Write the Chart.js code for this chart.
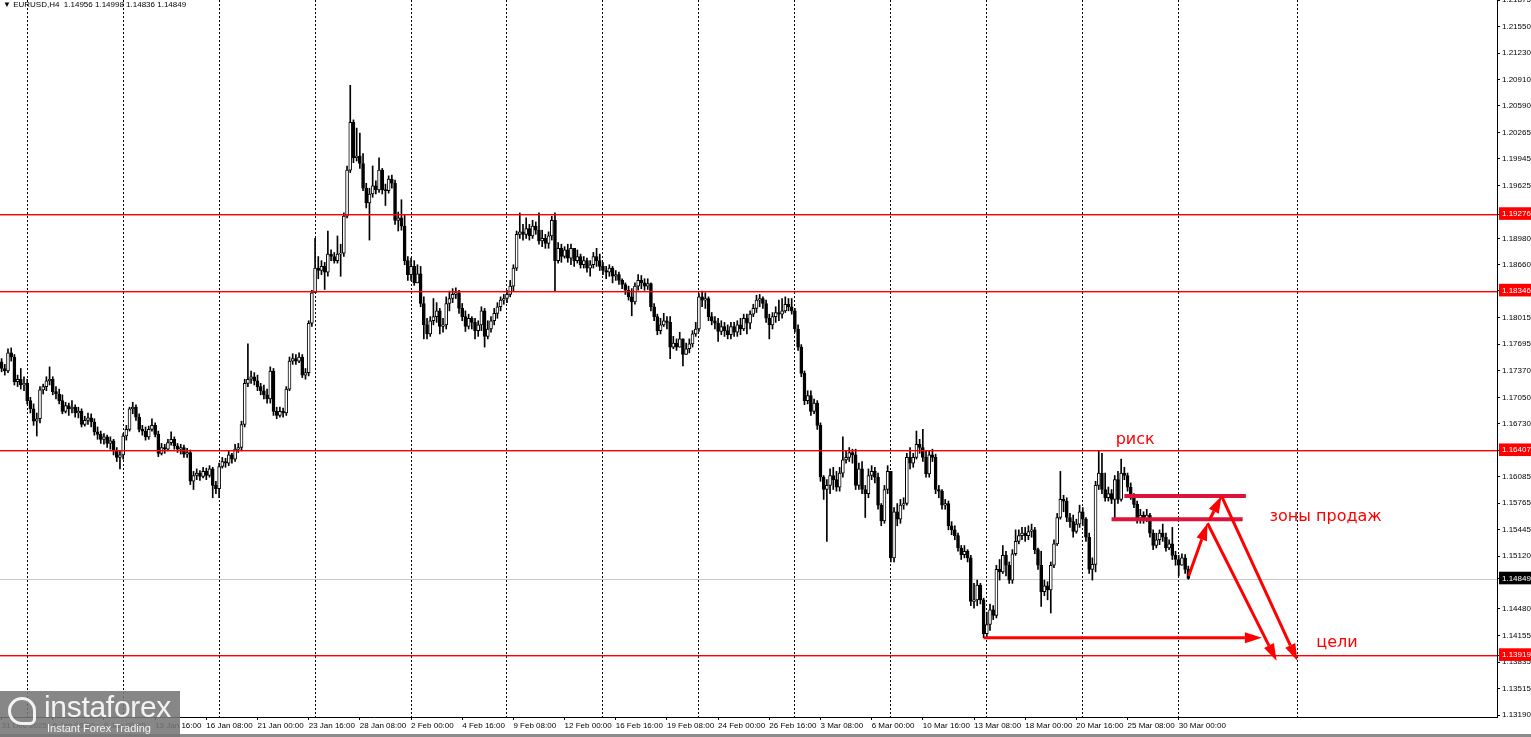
<!DOCTYPE html>
<html>
<head>
<meta charset="utf-8">
<title>EURUSD H4</title>
<script src="https://cdn.jsdelivr.net/npm/chart.js@4.4.1/dist/chart.umd.min.js"></script>
<style>
  html, body { margin: 0; padding: 0; background: #fff; overflow: hidden; }
  #wrap { position: relative; width: 1531px; height: 737px; }
  #header { position: absolute; left: 3px; top: 0; font: 8px 'Liberation Sans', Arial, sans-serif; color: #000; white-space: pre; }
  #logo { position: absolute; left: 0; top: 691px; width: 180px; height: 46px; background: rgba(118,118,118,0.88); color: rgba(255,255,255,0.9); font-family: 'Liberation Sans', Arial, sans-serif; }
  #logo .big { position: absolute; left: 44px; top: -1px; font-size: 30px; letter-spacing: -0.3px; }
  #logo .small { position: absolute; left: 47px; top: 31px; font-size: 11px; }
  #logo .icon { position: absolute; left: 8px; top: 6px; width: 28px; height: 28px; border: 3px solid rgba(255,255,255,0.9); border-radius: 50% 50% 6px 50%; box-sizing: border-box; }
  #bottom { position: absolute; left: 0; top: 734px; width: 1531px; height: 3px; background: #8c8c8c; }
</style>
</head>
<body>
<div id="wrap">
  <canvas id="chart" width="1531" height="737"></canvas>
  <div id="header">▼ EURUSD,H4  1.14956 1.14998 1.14836 1.14849</div>
  <div id="bottom"></div>
  <div id="logo"><div class="icon"></div><span class="big">instaforex</span><span class="small">Instant Forex Trading</span></div>
</div>
<script>
// prices in points above 1.0000 (1740 = 1.1740), one H4 bar each, 31 Dec 16:00 .. 30 Mar 12:00
const firstOpen = 1748;
const closes = [
    1740, 1737, 1759, 1754, 1724, 1727, 1720, 1722, 1701, 1691,
    1676, 1679, 1714, 1718, 1725, 1727, 1712, 1709, 1701, 1688,
    1695, 1691, 1693, 1686, 1688, 1672, 1677, 1680, 1675, 1663,
    1660, 1654, 1657, 1649, 1652, 1640, 1632, 1635, 1658, 1666,
    1691, 1693, 1681, 1666, 1664, 1657, 1666, 1671, 1660, 1637,
    1644, 1642, 1650, 1654, 1646, 1642, 1644, 1636, 1638, 1603,
    1610, 1613, 1609, 1615, 1610, 1618, 1598, 1594, 1621, 1627,
    1625, 1635, 1630, 1642, 1644, 1672, 1722, 1727, 1730, 1725,
    1718, 1713, 1708, 1703, 1737, 1688, 1683, 1688, 1686, 1715,
    1749, 1752, 1749, 1754, 1732, 1735, 1795, 1832, 1862, 1859,
    1864, 1857, 1879, 1876, 1871, 1879, 1880, 1925, 1981, 2039,
    1996, 1998, 1989, 1959, 1941, 1952, 1962, 1957, 1981, 1957,
    1956, 1970, 1965, 1920, 1923, 1913, 1871, 1854, 1864, 1844,
    1855, 1819, 1793, 1782, 1798, 1803, 1810, 1791, 1793, 1819,
    1825, 1830, 1832, 1813, 1803, 1791, 1801, 1796, 1786, 1793,
    1810, 1779, 1788, 1798, 1807, 1815, 1823, 1825, 1830, 1840,
    1862, 1903, 1906, 1903, 1910, 1901, 1913, 1908, 1895, 1898,
    1892, 1901, 1920, 1871, 1886, 1876, 1884, 1874, 1886, 1871,
    1876, 1866, 1871, 1862, 1866, 1876, 1871, 1864, 1859, 1857,
    1862, 1852, 1854, 1847, 1842, 1835, 1827, 1821, 1840, 1847,
    1844, 1840, 1843, 1815, 1803, 1786, 1793, 1798, 1796, 1766,
    1771, 1766, 1776, 1757, 1764, 1770, 1782, 1788, 1827, 1823,
    1825, 1803, 1798, 1795, 1785, 1791, 1786, 1781, 1791, 1784,
    1793, 1788, 1801, 1795, 1806, 1813, 1823, 1825, 1819, 1801,
    1793, 1803, 1808, 1806, 1810, 1818, 1815, 1810, 1788, 1766,
    1734, 1701, 1707, 1688, 1698, 1671, 1608, 1593, 1598, 1610,
    1605, 1596, 1613, 1629, 1632, 1638, 1635, 1598, 1618, 1593,
    1588, 1610, 1615, 1608, 1574, 1555, 1593, 1615, 1510, 1566,
    1557, 1574, 1576, 1632, 1625, 1632, 1648, 1644, 1632, 1612,
    1635, 1632, 1593, 1591, 1574, 1576, 1549, 1544, 1537, 1522,
    1514, 1518, 1510, 1457, 1459, 1477, 1459, 1418, 1429, 1447,
    1440, 1496, 1493, 1513, 1501, 1483, 1515, 1530, 1537, 1540,
    1537, 1542, 1544, 1520, 1501, 1469, 1476, 1471, 1501, 1527,
    1559, 1581, 1579, 1559, 1554, 1542, 1551, 1566, 1557, 1535,
    1496, 1502, 1598, 1613, 1593, 1583, 1588, 1581, 1605, 1581,
    1613, 1610, 1596, 1586, 1575, 1557, 1562, 1557, 1562, 1540,
    1525, 1532, 1540, 1535, 1522, 1527, 1513, 1508, 1501, 1510,
    1496, 1485
];
const highs = [
    1752, 1745, 1764, 1765, 1757, 1732, 1740, 1730, 1727, 1705,
    1697, 1686, 1718, 1721, 1730, 1742, 1730, 1718, 1715, 1708,
    1699, 1698, 1701, 1696, 1693, 1691, 1682, 1686, 1685, 1679,
    1669, 1664, 1661, 1659, 1657, 1654, 1644, 1640, 1661, 1671,
    1693, 1699, 1696, 1685, 1671, 1669, 1670, 1679, 1674, 1664,
    1649, 1648, 1654, 1663, 1657, 1649, 1648, 1647, 1643, 1641,
    1615, 1618, 1616, 1620, 1619, 1622, 1620, 1603, 1625, 1632,
    1631, 1640, 1637, 1648, 1649, 1676, 1727, 1770, 1737, 1735,
    1732, 1722, 1720, 1715, 1742, 1740, 1693, 1693, 1692, 1718,
    1754, 1758, 1757, 1759, 1757, 1740, 1798, 1835, 1898, 1876,
    1871, 1869, 1907, 1884, 1881, 1901, 1891, 1929, 1986, 2084,
    2042, 2032, 2026, 2001, 1965, 1959, 1986, 1968, 1996, 1983,
    1964, 1974, 1975, 1969, 1930, 1945, 1926, 1876, 1874, 1871,
    1866, 1864, 1827, 1801, 1803, 1825, 1820, 1813, 1801, 1827,
    1834, 1837, 1838, 1835, 1819, 1810, 1806, 1803, 1801, 1798,
    1815, 1813, 1798, 1803, 1813, 1820, 1827, 1830, 1835, 1847,
    1866, 1907, 1929, 1915, 1923, 1915, 1920, 1918, 1929, 1908,
    1903, 1906, 1925, 1929, 1893, 1891, 1888, 1891, 1891, 1886,
    1884, 1879, 1876, 1874, 1871, 1881, 1886, 1879, 1869, 1864,
    1866, 1864, 1859, 1857, 1849, 1844, 1840, 1837, 1844, 1854,
    1853, 1849, 1849, 1844, 1819, 1806, 1801, 1807, 1803, 1803,
    1779, 1776, 1784, 1776, 1771, 1776, 1786, 1796, 1831, 1834,
    1832, 1827, 1808, 1803, 1801, 1798, 1796, 1793, 1796, 1796,
    1798, 1801, 1806, 1806, 1810, 1818, 1829, 1830, 1827, 1823,
    1806, 1808, 1815, 1823, 1825, 1827, 1825, 1825, 1813, 1793,
    1769, 1737, 1713, 1713, 1703, 1701, 1674, 1610, 1605, 1618,
    1620, 1615, 1620, 1657, 1640, 1644, 1642, 1642, 1625, 1627,
    1598, 1618, 1622, 1620, 1613, 1576, 1598, 1622, 1576, 1571,
    1576, 1581, 1583, 1637, 1644, 1637, 1664, 1654, 1666, 1640,
    1640, 1642, 1636, 1598, 1593, 1581, 1579, 1554, 1549, 1540,
    1525, 1525, 1520, 1513, 1479, 1483, 1479, 1461, 1444, 1454,
    1452, 1501, 1508, 1525, 1518, 1505, 1520, 1544, 1544, 1547,
    1547, 1549, 1551, 1547, 1522, 1518, 1483, 1481, 1505, 1532,
    1564, 1615, 1586, 1583, 1564, 1562, 1557, 1574, 1571, 1559,
    1540, 1510, 1603, 1640, 1637, 1613, 1596, 1593, 1610, 1615,
    1630, 1620, 1613, 1601, 1588, 1579, 1569, 1566, 1569, 1564,
    1544, 1540, 1544, 1551, 1540, 1532, 1547, 1518, 1513, 1515,
    1514, 1500
];
const lows = [
    1736, 1732, 1735, 1749, 1720, 1718, 1715, 1713, 1697, 1686,
    1671, 1658, 1674, 1709, 1713, 1720, 1708, 1703, 1697, 1685,
    1686, 1683, 1686, 1681, 1680, 1669, 1670, 1672, 1669, 1659,
    1654, 1649, 1648, 1644, 1642, 1635, 1627, 1618, 1630, 1653,
    1664, 1685, 1677, 1663, 1659, 1653, 1654, 1664, 1657, 1633,
    1635, 1637, 1640, 1647, 1642, 1638, 1636, 1632, 1632, 1599,
    1593, 1605, 1604, 1607, 1605, 1608, 1583, 1588, 1583, 1619,
    1620, 1622, 1625, 1627, 1638, 1640, 1669, 1718, 1722, 1720,
    1713, 1708, 1703, 1698, 1698, 1683, 1679, 1681, 1681, 1683,
    1713, 1745, 1745, 1747, 1729, 1727, 1731, 1791, 1836, 1849,
    1854, 1836, 1852, 1871, 1868, 1868, 1852, 1876, 1923, 1978,
    1990, 1992, 1983, 1956, 1935, 1896, 1948, 1952, 1954, 1952,
    1938, 1953, 1959, 1915, 1907, 1908, 1866, 1847, 1847, 1841,
    1847, 1815, 1776, 1776, 1779, 1793, 1796, 1782, 1784, 1788,
    1810, 1820, 1825, 1807, 1798, 1785, 1788, 1788, 1776, 1779,
    1786, 1766, 1776, 1784, 1793, 1801, 1810, 1818, 1820, 1827,
    1834, 1859, 1898, 1896, 1898, 1896, 1898, 1903, 1891, 1888,
    1886, 1886, 1896, 1834, 1868, 1869, 1874, 1869, 1866, 1864,
    1868, 1862, 1862, 1857, 1852, 1862, 1864, 1859, 1854, 1849,
    1852, 1844, 1847, 1842, 1837, 1830, 1823, 1804, 1818, 1835,
    1837, 1835, 1836, 1810, 1798, 1781, 1782, 1791, 1788, 1752,
    1764, 1762, 1769, 1743, 1757, 1759, 1766, 1779, 1785, 1815,
    1813, 1798, 1793, 1788, 1773, 1781, 1779, 1776, 1776, 1779,
    1779, 1781, 1786, 1782, 1788, 1803, 1808, 1815, 1813, 1796,
    1776, 1788, 1796, 1798, 1801, 1808, 1810, 1806, 1784, 1762,
    1730, 1696, 1697, 1683, 1685, 1666, 1603, 1581, 1530, 1588,
    1593, 1591, 1591, 1608, 1625, 1627, 1625, 1593, 1593, 1588,
    1559, 1583, 1605, 1601, 1569, 1549, 1552, 1588, 1505, 1505,
    1549, 1552, 1569, 1574, 1618, 1620, 1630, 1637, 1627, 1608,
    1608, 1627, 1588, 1583, 1569, 1569, 1544, 1538, 1532, 1518,
    1508, 1510, 1505, 1452, 1449, 1452, 1454, 1413, 1414, 1422,
    1435, 1437, 1483, 1491, 1488, 1479, 1479, 1513, 1527, 1532,
    1530, 1532, 1535, 1515, 1496, 1451, 1464, 1459, 1443, 1498,
    1525, 1557, 1566, 1554, 1547, 1535, 1540, 1547, 1549, 1530,
    1491, 1483, 1493, 1593, 1588, 1579, 1579, 1576, 1557, 1576,
    1579, 1605, 1591, 1581, 1571, 1552, 1552, 1552, 1554, 1535,
    1520, 1522, 1526, 1530, 1518, 1520, 1508, 1501, 1488, 1501,
    1491, 1484
];

// time axis: a label every 16 bars, dotted line on each Monday 00:00
const xTickLabels = [
    '31 Dec 2025', '6 Jan 08:00', '9 Jan 00:00', '13 Jan 16:00', '16 Jan 08:00', '21 Jan 00:00',
    '23 Jan 16:00', '28 Jan 08:00', '2 Feb 00:00', '4 Feb 16:00', '9 Feb 08:00', '12 Feb 00:00',
    '16 Feb 16:00', '19 Feb 08:00', '24 Feb 00:00', '26 Feb 16:00', '3 Mar 08:00', '6 Mar 00:00',
    '10 Mar 16:00', '13 Mar 08:00', '18 Mar 00:00', '20 Mar 16:00', '25 Mar 08:00', '30 Mar 00:00'
];
const weekStarts = [8, 38, 68, 98, 128, 158, 188, 218, 248, 278, 308, 338, 368, 405];

// price axis
const priceTicks = [1.21875, 1.21550, 1.21230, 1.20910, 1.20590, 1.20265, 1.19945, 1.19625, 1.18980,
    1.18660, 1.18015, 1.17695, 1.17370, 1.17050, 1.16730, 1.16085, 1.15765, 1.15445, 1.15120,
    1.14480, 1.14155, 1.13835, 1.13515, 1.13190];
const levels = [1.19276, 1.18346, 1.16407, 1.13919];
const lastPrice = 1.14849;

// drawn analysis: [bar from, bar to, price]
const zones = [[351, 389, 1.1585], [347, 388, 1.1557]];
const arrows = [
    [307, 1.1413, 394, 1.1413],
    [371.1, 1.1488, 377.0, 1.1552],
    [377.6, 1.1556, 381.4, 1.1585],
    [381.4, 1.1585, 405.1, 1.1385],
    [377.0, 1.1552, 398.6, 1.1385]
];
const notes = [['риск', 348.3, 1.1653], ['зоны продаж', 396.4, 1.1560], ['цели', 411, 1.1407]];

const slotCount = 468;
const labelStep = 16;

const toPrice = v => 1 + v / 10000;
const opens = closes.map((c, i) => i === 0 ? firstOpen : closes[i - 1]);
const bodies = closes.map((c, i) => [toPrice(opens[i]), toPrice(c)]);
const wicks = closes.map((c, i) => [
    toPrice(Math.min(lows[i], opens[i], c)),
    toPrice(Math.max(highs[i], opens[i], c))
]);
const slots = Array.from({length: slotCount}, (_, i) => String(i));

function drawArrow(ctx, x1, y1, x2, y2) {
    const ang = Math.atan2(y2 - y1, x2 - x1);
    const head = 17, half = 5.5;
    const bx = x2 - head * Math.cos(ang), by = y2 - head * Math.sin(ang);
    ctx.beginPath();
    ctx.moveTo(x1, y1);
    ctx.lineTo(bx, by);
    ctx.stroke();
    ctx.beginPath();
    ctx.moveTo(x2, y2);
    ctx.lineTo(bx + half * Math.sin(ang), by - half * Math.cos(ang));
    ctx.lineTo(bx - half * Math.sin(ang), by + half * Math.cos(ang));
    ctx.closePath();
    ctx.fill();
}

function noPadding(s) {
    s.paddingTop = 0;
    s.paddingBottom = 0;
    s.paddingLeft = 0;
    s.paddingRight = 0;
}

const overlay = {
    id: 'overlay',
    beforeDatasetsDraw(chart) {
        const {ctx, chartArea: a, scales: {y}} = chart;
        ctx.save();
        ctx.fillStyle = '#c8c8c8';
        ctx.fillRect(a.left, Math.round(y.getPixelForValue(lastPrice)), a.right - a.left, 1);
        ctx.restore();
    },
    afterDatasetsDraw(chart) {
        const {ctx, chartArea: a, scales: {x, y}} = chart;
        ctx.save();
        levels.forEach(v => {
            const py = Math.round(y.getPixelForValue(v));
            ctx.fillStyle = '#ff0000';
            ctx.fillRect(a.left, py, a.right - a.left, 1);
            ctx.fillStyle = 'rgba(255,0,0,0.4)';
            ctx.fillRect(a.left, py + 1, a.right - a.left, 1);
        });

        ctx.strokeStyle = '#dc143c';
        ctx.lineWidth = 4;
        zones.forEach(([i1, i2, p]) => {
            const py = y.getPixelForValue(p);
            ctx.beginPath(); ctx.moveTo(x.getPixelForValue(i1), py); ctx.lineTo(x.getPixelForValue(i2), py); ctx.stroke();
        });

        ctx.strokeStyle = '#ff0000';
        ctx.fillStyle = '#ff0000';
        ctx.lineWidth = 3;
        arrows.forEach(([i1, p1, i2, p2]) => {
            drawArrow(ctx, x.getPixelForValue(i1), y.getPixelForValue(p1), x.getPixelForValue(i2), y.getPixelForValue(p2));
        });

        ctx.font = "16px 'DejaVu Sans', sans-serif";
        ctx.textBaseline = 'middle';
        ctx.textAlign = 'left';
        notes.forEach(([t, i, p]) => ctx.fillText(t, x.getPixelForValue(i), y.getPixelForValue(p)));
        ctx.restore();
    }
};

const ctx = document.getElementById('chart').getContext('2d');
const chart = new Chart(ctx, {
    type: 'bar',
    data: {
        labels: slots,
        datasets: [{
            data: bodies,
            order: 1,
            grouped: false,
            barThickness: 3,
            minBarLength: 1,
            borderWidth: 1,
            borderSkipped: false,
            borderColor: '#000000',
            backgroundColor: c => {
                const v = c.raw;
                return v && v[1] >= v[0] ? '#ffffff' : '#000000';
            }
        }, {
            data: wicks,
            order: 2,
            grouped: false,
            barThickness: 1,
            backgroundColor: '#000000'
        }]
    },
    options: {
        responsive: false,
        animation: false,
        events: [],
        layout: { padding: 0 },
        plugins: { legend: { display: false }, tooltip: { enabled: false }, title: { display: false } },
        scales: {
            x: {
                type: 'category',
                offset: true,
                afterFit: s => { s.height = 20; noPadding(s); },
                grid: {
                    offset: false,
                    drawOnChartArea: true,
                    color: c => weekStarts.includes(c.index) ? '#000000' : 'rgba(0,0,0,0)',
                    tickColor: c => c.index % labelStep === 0 && c.index / labelStep < xTickLabels.length ? '#000000' : 'rgba(0,0,0,0)',
                    tickLength: 3,
                    lineWidth: 1
                },
                border: { display: true, color: '#000000', width: 1, dash: [2, 2] },
                ticks: {
                    autoSkip: false,
                    maxRotation: 0,
                    minRotation: 0,
                    align: 'start',
                    padding: 1,
                    color: '#000000',
                    font: { family: "'Liberation Sans', Arial, sans-serif", size: 8 },
                    callback: (v, i) => i % labelStep === 0 ? (xTickLabels[i / labelStep] || '') : ''
                }
            },
            y: {
                type: 'linear',
                position: 'right',
                min: 1.13167,
                max: 1.21876,
                afterFit: s => { s.width = 34; noPadding(s); },
                afterBuildTicks: s => {
                    s.ticks = [...priceTicks, ...levels, lastPrice].map(v => ({ value: v }));
                },
                grid: { drawOnChartArea: false, tickLength: 3, tickColor: '#000000' },
                border: { display: true, color: '#000000', width: 1 },
                ticks: {
                    autoSkip: false,
                    padding: 2,
                    font: { family: "'Liberation Sans', Arial, sans-serif", size: 8 },
                    color: c => (levels.includes(c.tick.value) || c.tick.value === lastPrice) ? '#ffffff' : '#000000',
                    showLabelBackdrop: true,
                    backdropColor: c => levels.includes(c.tick.value) ? '#ff0000' : (c.tick.value === lastPrice ? '#000000' : 'rgba(0,0,0,0)'),
                    backdropPadding: { top: 2, bottom: 1, left: 3, right: 6 },
                    callback: v => v.toFixed(5)
                }
            }
        }
    },
    plugins: [overlay]
});
</script>
</body>
</html>
